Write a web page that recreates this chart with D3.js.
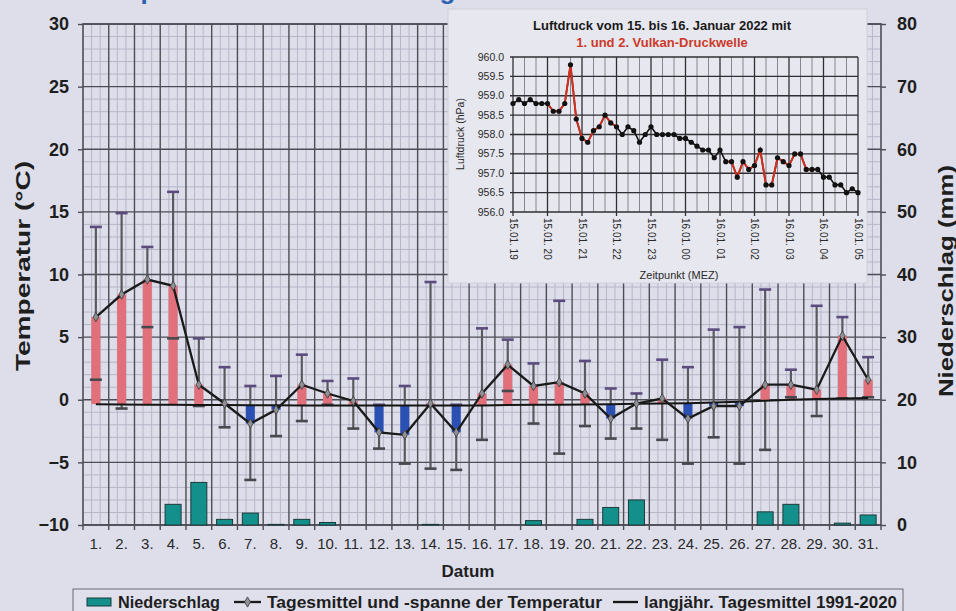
<!DOCTYPE html>
<html><head><meta charset="utf-8">
<script src="https://cdn.jsdelivr.net/npm/d3@7/dist/d3.min.js"></script>
<style>html,body{margin:0;padding:0;background:#dddeea;overflow:hidden}svg{display:block}</style>
</head><body>
<svg id="c" width="956" height="611"></svg>
<script>
// ---------- data ----------
const days = d3.range(1, 32);
const dayLabels = days.map(d => d + ".");
const tMean = [6.6, 8.4, 9.6, 9.1, 1.2, -0.3, -1.9, -0.8, 1.2, 0.5, -0.1, -2.6, -2.8, -0.3, -2.6, 0.5, 2.8, 1.1, 1.4, 0.5, -1.5, -0.3, 0.1, -1.5, -0.5, -0.5, 1.2, 1.2, 0.8, 5.1, 1.6];
const tMax  = [13.8, 14.9, 12.2, 16.6, 4.9, 2.6, 1.1, 1.9, 3.6, 1.5, 1.7, -0.4, 1.1, 9.4, -0.4, 5.7, 4.8, 2.9, 7.9, 3.1, 0.9, 0.5, 3.2, 2.6, 5.6, 5.8, 8.8, 2.4, 7.5, 6.6, 3.4];
const tMin  = [1.6, -0.7, 5.8, 4.9, -0.5, -2.2, -6.4, -2.9, -1.7, -0.4, -2.3, -3.9, -5.1, -5.5, -5.6, -3.2, 0.7, -1.9, -4.3, -2.1, -3.1, -2.3, -3.2, -5.1, -3.0, -5.1, -4.0, 0.2, -1.3, 0.1, 0.2];
const tLong = [-0.35, -0.38, -0.4, -0.4, -0.42, -0.42, -0.43, -0.43, -0.45, -0.45, -0.45, -0.45, -0.45, -0.45, -0.45, -0.45, -0.42, -0.4, -0.4, -0.38, -0.35, -0.32, -0.3, -0.27, -0.22, -0.15, -0.08, 0.0, 0.05, 0.1, 0.13];
const precip = [0, 0, 0, 3.3, 6.8, 0.9, 1.9, 0.1, 0.9, 0.4, 0, 0, 0, 0.1, 0, 0, 0, 0.7, 0, 0.9, 2.8, 4.0, 0, 0, 0, 0, 2.1, 3.3, 0, 0.3, 1.6];
const yTempTicks = [-10, -5, 0, 5, 10, 15, 20, 25, 30];
const yPrecTicks = [0, 10, 20, 30, 40, 50, 60, 70, 80];

// inset: air pressure every 10 minutes, 15.01. 19:00 – 16.01. 05:00
const pressure = [958.8, 958.9, 958.8, 958.9, 958.8, 958.8, 958.8, 958.6, 958.6, 958.8,
  959.8, 958.4, 957.9, 957.8, 958.1, 958.2, 958.5, 958.3, 958.2, 958.0,
  958.2, 958.1, 957.8, 958.0, 958.2, 958.0, 958.0, 958.0, 958.0, 957.9,
  957.9, 957.8, 957.7, 957.6, 957.6, 957.4, 957.6, 957.3, 957.3, 956.9,
  957.3, 957.1, 957.2, 957.6, 956.7, 956.7, 957.4, 957.3, 957.2, 957.5,
  957.5, 957.1, 957.1, 957.1, 956.9, 956.9, 956.7, 956.7, 956.5, 956.6, 956.5];
const pressureMinutes = pressure.map((p, i) => i * 10);
const hourTicks = d3.range(0, 601, 60);
const hourLabels = ["15.01. 19", "15.01. 20", "15.01. 21", "15.01. 22", "15.01. 23", "16.01. 00", "16.01. 01", "16.01. 02", "16.01. 03", "16.01. 04", "16.01. 05"];
const pTicks = [956.0, 956.5, 957.0, 957.5, 958.0, 958.5, 959.0, 959.5, 960.0];
const wave1 = [6, 18];
const wave2 = [37, 52];

// ---------- setup ----------
const svg = d3.select("#c");
const FONT = "'Liberation Sans', Arial, sans-serif";
const L = 83, R = 881, T = 24, B = 525;
const x = d3.scaleBand().domain(days).range([L, R]);
const bw = x.bandwidth();
const cx = d => x(d) + bw / 2;
const yT = d3.scaleLinear().domain([-10, 30]).range([B, T]);
const yP = d3.scaleLinear().domain([0, 80]).range([B, T]);

svg.append("rect").attr("width", 956).attr("height", 611).attr("fill", "#dddeea");

// blue title (mostly above the visible area, as in the reference)
svg.append("text").attr("x", 89).attr("y", -1.5)
  .attr("font-family", FONT).attr("font-weight", "bold").attr("font-size", 26)
  .attr("fill", "#2a62b0").text("Temperatur und Niederschlag im Januar 2022");

// ---------- grid ----------
const g = svg.append("g");
const minorH = d3.range(-10, 31, 1).filter(v => v % 5 !== 0);
g.selectAll(".mh").data(minorH).join("line")
  .attr("x1", L).attr("x2", R).attr("y1", d => yT(d)).attr("y2", d => yT(d))
  .attr("stroke", "#b6b6c9").attr("stroke-width", 1);
const minorV = [];
days.forEach(d => { minorV.push(x(d) + bw / 3, x(d) + 2 * bw / 3); });
g.selectAll(".mv").data(minorV).join("line")
  .attr("x1", d => d).attr("x2", d => d).attr("y1", T).attr("y2", B)
  .attr("stroke", "#b6b6c9").attr("stroke-width", 1);
g.selectAll(".Mh").data(yTempTicks).join("line")
  .attr("x1", L).attr("x2", R).attr("y1", d => yT(d)).attr("y2", d => yT(d))
  .attr("stroke", "#4d4d55").attr("stroke-width", 1.4);
g.selectAll(".Mv").data(days.slice(1)).join("line")
  .attr("x1", d => x(d)).attr("x2", d => x(d)).attr("y1", T).attr("y2", B)
  .attr("stroke", "#4d4d55").attr("stroke-width", 1.4);
g.append("rect").attr("x", L).attr("y", T).attr("width", R - L).attr("height", B - T)
  .attr("fill", "none").attr("stroke", "#4d4d55").attr("stroke-width", 1.6);

// bottom boundary ticks
g.selectAll(".bt").data(days.concat([32])).join("line")
  .attr("x1", d => d === 32 ? R : x(d)).attr("x2", d => d === 32 ? R : x(d))
  .attr("y1", B).attr("y2", B + 5).attr("stroke", "#4d4d55").attr("stroke-width", 1.4);

// ---------- precipitation ----------
svg.append("g").selectAll("rect").data(days.filter((d, i) => precip[i] > 0)).join("rect")
  .attr("x", d => cx(d) - 8).attr("width", 16)
  .attr("y", d => yP(precip[d - 1])).attr("height", d => B - yP(precip[d - 1]))
  .attr("fill", "#13908c").attr("stroke", "#1d3a3a").attr("stroke-width", 1);

// ---------- temperature ----------
const tg = svg.append("g");
tg.selectAll(".eb").data(days).join("line")
  .attr("x1", d => cx(d)).attr("x2", d => cx(d))
  .attr("y1", d => yT(tMin[d - 1])).attr("y2", d => yT(tMax[d - 1]))
  .attr("stroke", "#5a5a5e").attr("stroke-width", 2.2);
tg.selectAll(".tb").data(days).join("rect")
  .attr("x", d => cx(d) - 4.5).attr("width", 9)
  .attr("y", d => yT(Math.max(tMean[d - 1], tLong[d - 1])))
  .attr("height", d => Math.abs(yT(tMean[d - 1]) - yT(tLong[d - 1])))
  .attr("fill", d => tMean[d - 1] >= tLong[d - 1] ? "#e2707a" : "#2b50b4");
tg.selectAll(".ct").data(days).join("line")
  .attr("x1", d => cx(d) - 6).attr("x2", d => cx(d) + 6)
  .attr("y1", d => yT(tMax[d - 1])).attr("y2", d => yT(tMax[d - 1]))
  .attr("stroke", "#5c4c7e").attr("stroke-width", 2.6);
tg.selectAll(".cb").data(days).join("line")
  .attr("x1", d => cx(d) - 6).attr("x2", d => cx(d) + 6)
  .attr("y1", d => yT(tMin[d - 1])).attr("y2", d => yT(tMin[d - 1]))
  .attr("stroke", "#48484e").attr("stroke-width", 2.6);
tg.append("path").datum(days)
  .attr("d", d3.line().x(d => cx(d)).y(d => yT(tLong[d - 1])))
  .attr("fill", "none").attr("stroke", "#151515").attr("stroke-width", 2);
tg.append("path").datum(days)
  .attr("d", d3.line().x(d => cx(d)).y(d => yT(tMean[d - 1])))
  .attr("fill", "none").attr("stroke", "#1a1a1a").attr("stroke-width", 2.3);
tg.selectAll(".mk").data(days).join("path")
  .attr("transform", d => `translate(${cx(d)},${yT(tMean[d - 1])})`)
  .attr("d", d3.symbol(d3.symbolDiamond, 26))
  .attr("fill", "#8f8f96").attr("stroke", "#3a3a3a").attr("stroke-width", 0.8);

// ---------- axes ----------
const axL = svg.append("g").attr("transform", `translate(${L},0)`)
  .call(d3.axisLeft(yT).tickValues(yTempTicks).tickSize(5).tickPadding(9).tickFormat(d3.format("d")));
const axR = svg.append("g").attr("transform", `translate(${R},0)`)
  .call(d3.axisRight(yP).tickValues(yPrecTicks).tickSize(5).tickPadding(11).tickFormat(d3.format("d")));
[axL, axR].forEach(a => {
  a.select(".domain").remove();
  a.selectAll(".tick line").attr("stroke", "#4d4d55").attr("stroke-width", 1.4);
  a.selectAll("text").attr("font-family", FONT).attr("font-weight", "bold").attr("font-size", 18).attr("fill", "#1e1e1e");
});
const axB = svg.append("g").attr("transform", `translate(0,${B})`)
  .call(d3.axisBottom(x).tickSize(0).tickPadding(13).tickFormat((d, i) => dayLabels[i]));
axB.select(".domain").remove();
axB.selectAll("text").attr("font-family", FONT).attr("font-size", 15).attr("fill", "#2a2a2a");

svg.append("text").attr("transform", "translate(30,266) rotate(-90)").attr("text-anchor", "middle")
  .attr("font-family", FONT).attr("font-weight", "bold").attr("font-size", 21).attr("fill", "#1e1e1e")
  .attr("textLength", 210).attr("lengthAdjust", "spacingAndGlyphs")
  .text("Temperatur (°C)");
svg.append("text").attr("transform", "translate(953,281) rotate(-90)").attr("text-anchor", "middle")
  .attr("font-family", FONT).attr("font-weight", "bold").attr("font-size", 21).attr("fill", "#1e1e1e")
  .attr("textLength", 232).attr("lengthAdjust", "spacingAndGlyphs")
  .text("Niederschlag (mm)");
svg.append("text").attr("x", 468).attr("y", 577).attr("text-anchor", "middle")
  .attr("font-family", FONT).attr("font-weight", "bold").attr("font-size", 17).attr("fill", "#1e1e1e")
  .text("Datum");

// ---------- legend ----------
const lg = svg.append("g").attr("font-family", FONT).attr("font-weight", "bold").attr("font-size", 16).attr("fill", "#1e1e1e");
lg.append("rect").attr("x", 73).attr("y", 589).attr("width", 830).attr("height", 30)
  .attr("fill", "#dfe0ec").attr("stroke", "#6a6a72").attr("stroke-width", 1);
lg.append("rect").attr("x", 87).attr("y", 598).attr("width", 24).attr("height", 8)
  .attr("fill", "#13908c").attr("stroke", "#1d3a3a").attr("stroke-width", 1);
lg.append("text").attr("x", 118).attr("y", 607.5).attr("textLength", 102).attr("lengthAdjust", "spacingAndGlyphs").text("Niederschlag");
lg.append("line").attr("x1", 234).attr("x2", 261).attr("y1", 602).attr("y2", 602).attr("stroke", "#1a1a1a").attr("stroke-width", 2.3);
lg.append("path").attr("transform", "translate(247.5,602)").attr("d", d3.symbol(d3.symbolDiamond, 30))
  .attr("fill", "#8f8f96").attr("stroke", "#3a3a3a").attr("stroke-width", 0.8);
lg.append("text").attr("x", 267).attr("y", 607.5).attr("textLength", 335).attr("lengthAdjust", "spacingAndGlyphs").text("Tagesmittel und -spanne der Temperatur");
lg.append("line").attr("x1", 613).attr("x2", 638).attr("y1", 602).attr("y2", 602).attr("stroke", "#151515").attr("stroke-width", 2.3);
lg.append("text").attr("x", 644).attr("y", 607.5).attr("textLength", 253).attr("lengthAdjust", "spacingAndGlyphs").text("langjähr. Tagesmittel 1991-2020");

// ---------- inset ----------
const ig = svg.append("g").attr("font-family", FONT);
ig.append("rect").attr("x", 448).attr("y", 9).attr("width", 419).attr("height", 274)
  .attr("fill", "#e7e7ef").attr("stroke", "#cfd0da").attr("stroke-width", 1);
const xI = d3.scaleLinear().domain([0, 600]).range([513, 858]);
const yI = d3.scaleLinear().domain([956, 960]).range([212, 57]);
ig.append("text").attr("x", 662).attr("y", 30).attr("text-anchor", "middle")
  .attr("font-weight", "bold").attr("font-size", 13).attr("fill", "#1a1a1a")
  .text("Luftdruck vom 15. bis 16. Januar 2022 mit");
ig.append("text").attr("x", 662).attr("y", 47).attr("text-anchor", "middle")
  .attr("font-weight", "bold").attr("font-size", 13).attr("fill", "#cc3a2a")
  .text("1. und 2. Vulkan-Druckwelle");
const minorIV = d3.range(20, 600, 20).filter(m => m % 60 !== 0);
ig.selectAll(".imv").data(minorIV).join("line")
  .attr("x1", d => xI(d)).attr("x2", d => xI(d)).attr("y1", yI(960)).attr("y2", yI(956))
  .attr("stroke", "#7a7a80").attr("stroke-width", 0.9);
ig.selectAll(".ihv").data(hourTicks).join("line")
  .attr("x1", d => xI(d)).attr("x2", d => xI(d)).attr("y1", yI(960)).attr("y2", yI(956) + 4)
  .attr("stroke", "#2f2f33").attr("stroke-width", 1.3);
ig.selectAll(".ihh").data(pTicks).join("line")
  .attr("x1", xI(0) - 3).attr("x2", xI(600)).attr("y1", d => yI(d)).attr("y2", d => yI(d))
  .attr("stroke", "#2f2f33").attr("stroke-width", 1.3);
ig.selectAll(".iyl").data(pTicks).join("text")
  .attr("x", 504).attr("y", d => yI(d) + 3.5).attr("text-anchor", "end")
  .attr("font-size", 10.5).attr("fill", "#2a2a2a").text(d => d.toFixed(1));
ig.selectAll(".ixl").data(hourTicks).join("text")
  .attr("transform", d => `translate(${xI(d) - 3.5},218) rotate(90)`)
  .attr("font-size", 10).attr("fill", "#2a2a2a").text((d, i) => hourLabels[i]);
ig.append("text").attr("transform", "translate(464,134) rotate(-90)").attr("text-anchor", "middle")
  .attr("font-size", 10.5).attr("fill", "#2a2a2a").text("Luftdruck (hPa)");
ig.append("text").attr("x", 679).attr("y", 279).attr("text-anchor", "middle")
  .attr("font-size", 11).attr("fill", "#2a2a2a").text("Zeitpunkt (MEZ)");
const pline = d3.line().x((p, i) => xI(pressureMinutes[i])).y(p => yI(p));
ig.append("path").datum(pressure).attr("d", pline).attr("fill", "none").attr("stroke", "#111").attr("stroke-width", 1.6);
[wave1, wave2].forEach(w => {
  const idx = d3.range(w[0], w[1] + 1);
  ig.append("path").datum(idx)
    .attr("d", d3.line().x(i => xI(pressureMinutes[i])).y(i => yI(pressure[i])))
    .attr("fill", "none").attr("stroke", "#d2301e").attr("stroke-width", 2);
});
ig.selectAll(".pd").data(pressure).join("circle")
  .attr("cx", (p, i) => xI(pressureMinutes[i])).attr("cy", p => yI(p)).attr("r", 2.6)
  .attr("fill", "#111");
</script>
</body></html>
